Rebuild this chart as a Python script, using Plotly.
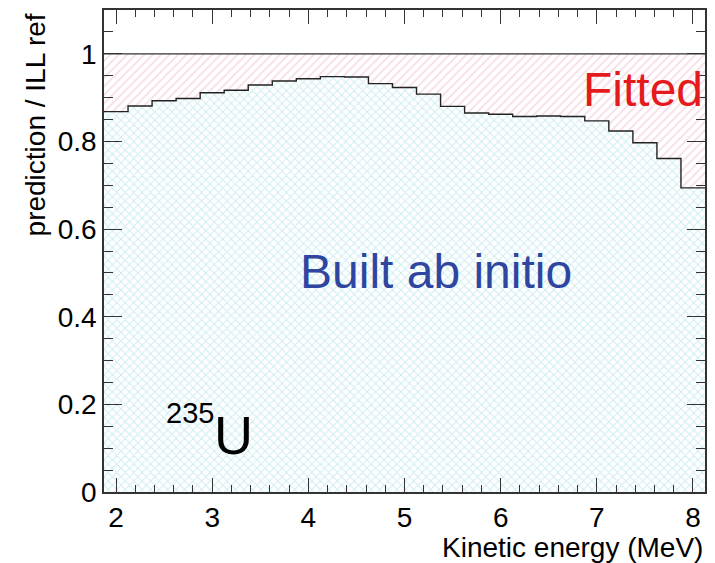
import plotly.graph_objects as go

# bin edges 1.875 .. 8.125 MeV, 0.25 MeV wide
bin_width = 0.25
bin_centers = [2.0 + 0.25 * i for i in range(25)]
ratio = [0.868, 0.881, 0.893, 0.898, 0.911, 0.917, 0.929, 0.938, 0.943, 0.948,
         0.947, 0.932, 0.923, 0.908, 0.880, 0.865, 0.862, 0.857, 0.858, 0.857,
         0.847, 0.824, 0.797, 0.761, 0.694]
fitted = [1 - r for r in ratio]
y_ticks = [0, 0.2, 0.4, 0.6, 0.8, 1]
y_ticktext = ["0", "0.2", "0.4", "0.6", "0.8", "1"]

fig = go.Figure()

# built ab initio part (cyan cross hatch)
fig.add_trace(go.Bar(
    x=bin_centers, y=ratio, width=bin_width,
    marker=dict(color="white", line=dict(width=0),
                pattern=dict(shape="x", fgcolor="#9fdce6", bgcolor="white",
                             size=6, solidity=0.3)),
    showlegend=False, hoverinfo="skip"))

# fitted part up to 1 (pink diagonal hatch)
fig.add_trace(go.Bar(
    x=bin_centers, y=fitted, base=ratio, width=bin_width,
    marker=dict(color="white", line=dict(width=0),
                pattern=dict(shape="/", fgcolor="#eeb8cf", bgcolor="white",
                             size=6, solidity=0.3)),
    showlegend=False, hoverinfo="skip"))

# step outline
edges = [c - bin_width / 2 for c in bin_centers] + [bin_centers[-1] + bin_width / 2]
fig.add_trace(go.Scatter(
    x=edges, y=ratio + [ratio[-1]], mode="lines",
    line=dict(color="#222222", width=1.4, shape="hv"),
    showlegend=False, hoverinfo="skip"))

fig.add_hline(y=1, line=dict(color="#333333", width=1.2))

font = "Liberation Sans, Arial, sans-serif"

def label(x, y, text, size, color="black", **kw):
    fig.add_annotation(x=x, y=y, xref="paper", yref="paper", text=text,
                       showarrow=False, xanchor=kw.pop("xanchor", "center"),
                       yanchor=kw.pop("yanchor", "middle"),
                       font=dict(family=font, size=size, color=color), **kw)

label(0.897, 0.835, "Fitted", 48, "#e41a1c")
label(0.552, 0.457, "Built ab initio", 48, "#2e46a0")
label(0.143, 0.164, "235", 29)
label(0.2155, 0.118, "U", 54)

# axis titles ROOT style: x title right aligned, y title top aligned
label(1.0, -0.1157, "Kinetic energy (MeV)", 28, xanchor="right")
label(-0.1148, 0.996, "prediction / ILL ref", 28, yanchor="top", textangle=-90)

fig.update_layout(
    width=715, height=563,
    margin=dict(l=104, r=10, t=8, b=71),
    paper_bgcolor="white", plot_bgcolor="white",
    barmode="overlay", bargap=0,
    font=dict(family=font, size=28, color="black"),
)

fig.update_xaxes(
    range=[1.875, 8.125], dtick=1, tick0=0,
    ticks="inside", ticklen=14, tickcolor="#333333",
    minor=dict(dtick=0.2, ticks="inside", ticklen=7, tickcolor="#333333"),
    showline=True, linecolor="#333333", linewidth=1.5, mirror="ticks",
    showgrid=False, zeroline=False,
)
fig.update_yaxes(
    range=[0, 1.1], tickvals=y_ticks, ticktext=y_ticktext,
    ticks="inside", ticklen=18, tickcolor="#333333",
    minor=dict(dtick=0.05, ticks="inside", ticklen=9, tickcolor="#333333"),
    showline=True, linecolor="#333333", linewidth=1.5, mirror="ticks",
    showgrid=False, zeroline=False,
)

# drop the default page margin so the figure fills the window
fig.write_html("out.html", config={"displayModeBar": False},
               post_script="document.body.style.margin='0px';")
